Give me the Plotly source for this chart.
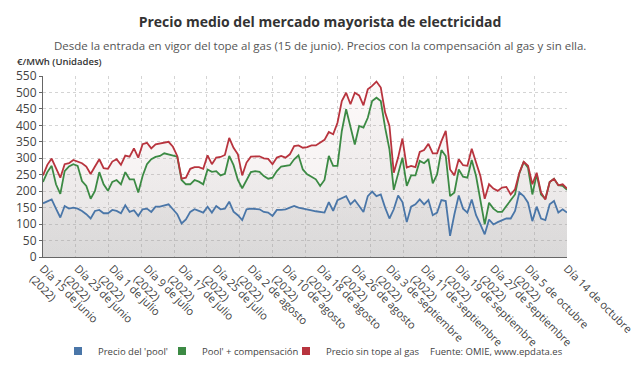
import pandas as pd
import plotly.graph_objects as go

start_date = "2022-06-15"
n_days = 122
dates = pd.date_range(start_date, periods=n_days, freq="D")

pool = [163, 170, 175, 147, 120, 155, 147, 150, 147, 140, 130, 117, 140, 143, 133, 133, 143, 140, 133, 157,
        137, 142, 125, 145, 147, 137, 153, 153, 157, 160, 145, 130, 102, 114, 137, 145, 140, 135, 153, 135,
        155, 145, 147, 168, 138, 127, 112, 145, 147, 147, 145, 137, 135, 125, 143, 143, 145, 150, 155, 150,
        148, 145, 142, 139, 137, 135, 167, 140, 173, 180, 185, 160, 173, 155, 137, 185, 199, 185, 190, 150,
        117, 145, 187, 167, 106, 153, 160, 175, 160, 173, 127, 135, 173, 170, 64, 130, 187, 147, 135, 175,
        127, 99, 69, 114, 99, 106, 112, 117, 117, 140, 196, 185, 165, 109, 153, 117, 112, 160, 170, 135,
        145, 135]

pool_comp = [228, 258, 277, 221, 192, 261, 275, 282, 277, 231, 216, 177, 201, 258, 221, 201, 228, 234, 221, 258,
             236, 236, 196, 246, 282, 297, 304, 307, 315, 312, 307, 305, 234, 221, 221, 234, 229, 221, 266, 259,
             261, 248, 253, 307, 279, 234, 209, 236, 258, 261, 259, 246, 238, 241, 261, 275, 277, 279, 297, 309,
             266, 251, 244, 236, 216, 234, 307, 277, 277, 383, 449, 393, 342, 398, 393, 423, 474, 484, 474, 393,
             327, 204, 256, 302, 216, 248, 248, 292, 285, 297, 224, 251, 325, 307, 185, 196, 266, 244, 241, 295,
             246, 175, 99, 165, 147, 137, 137, 155, 173, 190, 254, 289, 271, 190, 251, 190, 177, 228, 238, 218,
             216, 204]

sin_tope = [248, 280, 299, 270, 241, 282, 285, 295, 291, 285, 275, 252, 275, 297, 270, 268, 290, 297, 280, 308,
            305, 330, 302, 343, 347, 330, 342, 345, 348, 350, 335, 307, 238, 241, 268, 273, 273, 268, 309, 282,
            302, 304, 310, 362, 332, 312, 248, 287, 305, 306, 306, 300, 298, 282, 302, 307, 302, 312, 337, 339,
            332, 334, 339, 339, 347, 356, 380, 373, 408, 474, 499, 464, 499, 491, 461, 510, 520, 533, 515, 439,
            398, 256, 302, 360, 272, 277, 273, 319, 325, 344, 315, 315, 352, 383, 266, 248, 297, 279, 277, 329,
            287, 246, 177, 221, 208, 201, 211, 213, 190, 206, 256, 289, 277, 221, 256, 196, 175, 228, 238, 218,
            221, 208]

series_names = ["Precio del 'pool'", "Pool' + compensación", "Precio sin tope al gas"]
series_colors = ["#4a76a8", "#3c8a44", "#b8343e"]

tick_dates = ["2022-06-15", "2022-06-23", "2022-07-01", "2022-07-09", "2022-07-17", "2022-07-25",
              "2022-08-02", "2022-08-10", "2022-08-18", "2022-08-26", "2022-09-03", "2022-09-11",
              "2022-09-19", "2022-09-27", "2022-10-05", "2022-10-14"]
tick_labels = ["Día 15 de junio<br>(2022)", "Día 23 de junio<br>(2022)", "Día 1 de julio<br>(2022)",
               "Día 9 de julio<br>(2022)", "Día 17 de julio<br>(2022)", "Día 25 de julio<br>(2022)",
               "Día 2 de agosto<br>(2022)", "Día 10 de agosto<br>(2022)", "Día 18 de agosto<br>(2022)",
               "Día 26 de agosto<br>(2022)", "Día 3 de septiembre<br>(2022)", "Día 11 de septiembre<br>(2022)",
               "Día 19 de septiembre<br>(2022)", "Día 27 de septiembre<br>(2022)", "Día 5 de octubre<br>(2022)",
               "Día 14 de octubre"]

FONT = "Open Sans"
L, R, T, B = 43, 73, 76, 119
PW, PH = 640 - L - R, 376 - T - B


def px_x(px):
    return (px - L) / PW


def px_y(py):
    return (376 - B - py) / PH


fig = go.Figure()

fills = [
    (sin_tope, [[0, "rgba(150,140,140,0.14)"], [1, "rgba(200,140,140,0.05)"]]),
    (pool_comp, [[0, "rgba(150,150,150,0.13)"], [1, "rgba(170,165,165,0.05)"]]),
    (pool, [[0, "rgba(145,145,145,0.13)"], [1, "rgba(160,160,160,0.05)"]]),
]
for vals, cs in fills:
    fig.add_trace(go.Scatter(x=dates, y=vals, mode="lines", line=dict(width=0), fill="tozeroy",
                             fillgradient=dict(type="vertical", colorscale=cs, start=0, stop=550),
                             showlegend=False, hoverinfo="skip"))

for vals, name, col in zip([pool, pool_comp, sin_tope], series_names, series_colors):
    fig.add_trace(go.Scatter(x=dates, y=vals, mode="lines", name=name,
                             line=dict(color=col, width=1.8), showlegend=False))

legend_ids = ["legend", "legend2", "legend3"]
legend_sq_px = [77, 181, 305]
for name, col, lid in zip(series_names, series_colors, legend_ids):
    fig.add_trace(go.Scatter(x=[None], y=[None], mode="markers", name=name, legend=lid,
                             marker=dict(symbol="square", size=8, color=col)))

leg_common = dict(orientation="h", xanchor="left", y=px_y(351), yanchor="middle",
                  font=dict(size=9.5, color="#444", family=FONT), itemwidth=30,
                  bgcolor="rgba(0,0,0,0)")

fig.update_layout(
    width=640, height=376,
    margin=dict(l=L, r=R, t=T, b=B, autoexpand=False),
    paper_bgcolor="white", plot_bgcolor="white",
    font=dict(family=FONT, color="#444", size=11),
    title=dict(text="<b>Precio medio del mercado mayorista de electricidad</b>",
               x=0.5, xref="container", xanchor="center",
               y=1 - 22 / 376, yref="container", yanchor="middle",
               font=dict(size=14, color="#333", family=FONT)),
    legend=dict(x=px_x(legend_sq_px[0] - 19), **leg_common),
    legend2=dict(x=px_x(legend_sq_px[1] - 19), **leg_common),
    legend3=dict(x=px_x(legend_sq_px[2] - 19), **leg_common),
    showlegend=True,
)

fig.update_xaxes(
    type="date", range=[dates[0], dates[-1]], automargin=False,
    tickmode="array", tickvals=tick_dates, ticktext=tick_labels, tickangle=45,
    tickfont=dict(size=11, color="#444"),
    showgrid=False, showline=True, linecolor="#666", linewidth=1, ticks="",
    minor=dict(dtick=121 / 16 * 86400000, tick0=start_date, showgrid=True,
               gridcolor="#d4d4d4", griddash="dot", gridwidth=1, ticks=""),
)
fig.update_yaxes(
    range=[0, 550], dtick=50, tick0=0, automargin=False,
    tickfont=dict(size=12, color="#444"),
    showgrid=True, gridcolor="#d4d4d4", griddash="dot", gridwidth=1,
    showline=True, linecolor="#666", linewidth=1, ticks="outside", ticklen=3, tickcolor="#666",
    zeroline=False,
)

fig.add_annotation(text="Desde la entrada en vigor del tope al gas (15 de junio). Precios con la compensación al gas y sin ella.",
                   xref="paper", yref="paper", x=px_x(320), y=px_y(45),
                   xanchor="center", yanchor="middle", showarrow=False,
                   font=dict(size=11.5, color="#555", family=FONT))
fig.add_annotation(text="€/MWh (Unidades)", xref="paper", yref="paper",
                   x=px_x(15), y=px_y(61), xanchor="left", yanchor="middle",
                   showarrow=False, font=dict(size=9.5, color="#333", family=FONT, weight=600))
fig.add_annotation(text="Fuente: OMIE, www.epdata.es", xref="paper", yref="paper",
                   x=px_x(428), y=px_y(351), xanchor="left", yanchor="middle",
                   showarrow=False, font=dict(size=9.5, color="#444", family=FONT))

fig.write_html("out.html", config={"displayModeBar": False},
               post_script="document.body.style.margin='0';document.body.style.overflow='hidden';")
